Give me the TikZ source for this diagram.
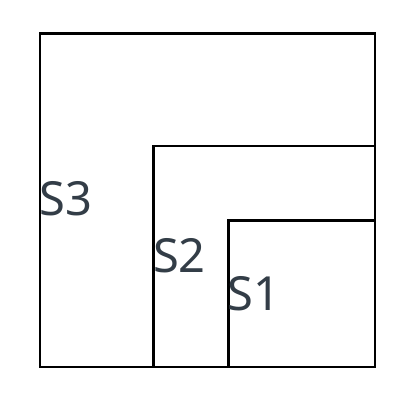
\documentclass[tikz,border=0pt]{standalone}
\usepackage{fontspec}
\setmainfont{Noto Sans}
\usepackage{tikz}
\definecolor{labelgray}{RGB}{51,61,71}

\begin{document}
\begin{tikzpicture}[x=1pt, y=-1pt,
    box/.style={line width=2.8pt, black},
    lbl/.style={anchor=base west, inner sep=0pt, text=labelgray, font=\fontsize{47}{47}\selectfont}]
    \useasboundingbox (0,0) rectangle (418,401);
    \draw[box] (40,33.5) rectangle (375,367);
    \draw[box] (153.3,146) rectangle (375,367);
    \draw[box] (228.7,220.5) rectangle (375,367);
    \node[lbl] (s3) at (39.5,215) {S3};
    \node[lbl] (s2) at (152.8,272.5) {S2};
    \node[lbl] (s1) at (227.2,310) {S1};
\end{tikzpicture}
\end{document}
